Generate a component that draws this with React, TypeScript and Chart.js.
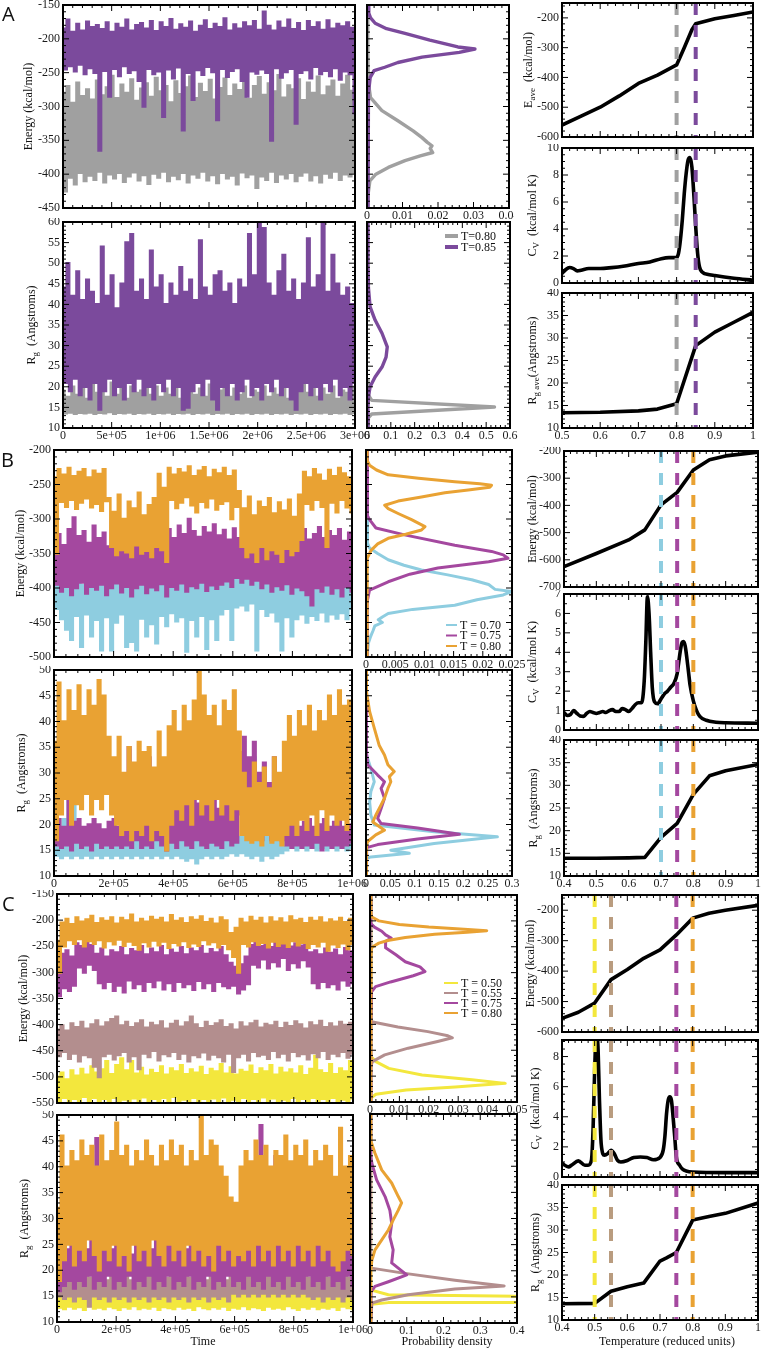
import React, { useEffect, useRef } from 'react';
import { Chart, registerables } from 'chart.js';

Chart.register(...registerables);

const SERIF = '"Liberation Serif", "Times New Roman", serif';
Chart.defaults.font.family = SERIF;

// ---------- colours ----------
const GRAY = '#a0a0a0';
const PURPLE = '#7b4a9c';
const CYAN = '#8ecde0';
const MAGENTA = '#a4489f';
const ORANGE = '#e9a233';
const YELLOW = '#f3e73d';
const MAUVE = '#b38e8e';
const TAN = '#b99c7f';

// ---------- tick values / labels ----------
const A_TIME_TICKS = [0, 5e5, 1e6, 1.5e6, 2e6, 2.5e6, 3e6];
const A_TIME_LABELS = ['0', '5e+05', '1e+06', '1.5e+06', '2e+06', '2.5e+06', '3e+06'];
const BC_TIME_TICKS = [0, 2e5, 4e5, 6e5, 8e5, 1e6];
const BC_TIME_LABELS = ['0', '2e+05', '4e+05', '6e+05', '8e+05', '1e+06'];
const A_E_TICKS = [-450, -400, -350, -300, -250, -200, -150];
const B_E_TICKS = [-500, -450, -400, -350, -300, -250, -200];
const C_E_TICKS = [-550, -500, -450, -400, -350, -300, -250, -200, -150];
const A_RG_TICKS = [10, 15, 20, 25, 30, 35, 40, 45, 50, 55, 60];
const BC_RG_TICKS = [10, 15, 20, 25, 30, 35, 40, 45, 50];
const A_HE_TICKS = [0, 0.01, 0.02, 0.03, 0.04];
const A_HR_TICKS = [0, 0.1, 0.2, 0.3, 0.4, 0.5, 0.6];
const B_HE_TICKS = [0, 0.005, 0.01, 0.015, 0.02, 0.025];
const B_HR_TICKS = [0, 0.05, 0.1, 0.15, 0.2, 0.25, 0.3];
const C_HE_TICKS = [0, 0.01, 0.02, 0.03, 0.04, 0.05];
const C_HR_TICKS = [0, 0.1, 0.2, 0.3, 0.4];
const A_TEMP_TICKS = [0.5, 0.6, 0.7, 0.8, 0.9, 1];
const BC_TEMP_TICKS = [0.4, 0.5, 0.6, 0.7, 0.8, 0.9, 1];
const R_E_TICKS = [-600, -500, -400, -300, -200];
const B_RE_TICKS = [-700, -600, -500, -400, -300, -200];
const A_CV_TICKS = [0, 2, 4, 6, 8, 10];
const B_CV_TICKS = [0, 1, 2, 3, 4, 5, 6, 7];
const C_CV_TICKS = [0, 2, 4, 6, 8];
const R_RG_TICKS = [10, 15, 20, 25, 30, 35, 40];

// ---------- A: time series (alternating high / low samples) ----------
const A_E_T085 = [
  -185, -245, -172, -240, -190, -248, -178, -238, -188, -252, -175, -243, -183, -250, -180, -365, -186, -247, -176, -285,
  -190, -244, -178, -255, -184, -240, -172, -250, -188, -246, -180, -262, -177, -300, -185, -244, -174, -252, -189, -248,
  -176, -315, -183, -245, -171, -258, -187, -242, -179, -335, -184, -250, -175, -290, -190, -246, -181, -253, -173, -241,
  -186, -249, -178, -320, -183, -244, -170, -256, -188, -247, -179, -243, -185, -262, -176, -285, -182, -248, -174, -251,
  -187, -245, -160, -250, -181, -350, -188, -243, -175, -257, -184, -249, -172, -244, -186, -325, -177, -250, -189, -246,
  -174, -258, -183, -241, -176, -252, -187, -247, -173, -255, -185, -243, -178, -260, -182, -248, -176, -252, -184, -310,
];
const A_E_T080 = [
  -280, -425, -270, -405, -295, -415, -265, -398, -285, -410, -275, -402, -290, -408, -262, -396, -284, -412, -272, -400,
  -255, -406, -288, -398, -268, -411, -280, -403, -260, -397, -292, -409, -274, -401, -266, -414, -286, -399, -258, -405,
  -278, -396, -270, -410, -294, -402, -263, -407, -282, -398, -272, -412, -256, -400, -288, -405, -267, -396, -279, -409,
  -261, -401, -290, -413, -273, -398, -259, -406, -285, -402, -268, -415, -276, -397, -262, -404, -289, -400, -270, -420,
  -257, -403, -283, -408, -266, -396, -278, -411, -254, -400, -287, -406, -269, -398, -275, -410, -260, -402, -291, -397,
  -265, -409, -280, -401, -256, -412, -284, -399, -271, -405, -262, -396, -286, -408, -268, -400, -255, -403, -277, -398,
];
const A_RG_T085 = [
  44, 21, 50, 19, 42, 22, 48, 18, 41, 20, 46, 17, 43, 21, 40, 14.5, 54, 19, 42, 22,
  47, 18, 39, 20, 45, 17, 55, 21, 57, 19, 43, 22, 46, 18, 41, 20, 53, 17, 44, 21,
  47, 19, 40, 22, 45, 18, 42, 20, 49, 14.5, 43, 15, 46, 19, 41, 21, 55.5, 18, 44, 22,
  42, 17, 47, 14.5, 48, 20, 43, 18, 45, 21, 40, 17, 46, 19, 44, 22, 57, 18, 47, 20,
  60, 17, 58.5, 21, 45, 19, 42, 22, 48, 18, 52, 20, 43, 17, 46, 14.5, 41, 19, 45, 21,
  56, 18, 44, 20, 47, 17, 60, 21, 43, 19, 52, 22, 45, 18, 42, 20, 44, 17, 40, 21,
];
const A_RG_T080 = [
  19, 13.6, 17.5, 13.8, 20, 13.5, 18, 13.7, 19.5, 13.6, 17, 13.8, 20.5, 13.5, 18.5, 13.7, 19, 13.6, 17.5, 13.9,
  21, 13.5, 18, 13.7, 19.5, 13.6, 17, 13.8, 20, 13.5, 18.5, 13.7, 19, 13.6, 23, 13.8, 18, 13.5, 20, 13.7,
  17.5, 13.6, 19.5, 13.8, 18, 13.5, 21, 13.7, 17, 13.6, 19, 13.8, 20, 13.5, 18, 13.7, 19.5, 13.6, 17.5, 13.8,
  20.5, 13.5, 18, 13.7, 19, 13.6, 21.5, 13.8, 17.5, 13.5, 19.5, 13.7, 18, 13.6, 20, 13.8, 17, 13.5, 19, 13.7,
  18.5, 13.6, 20, 13.8, 17.5, 13.5, 19.5, 13.7, 18, 13.6, 20.5, 13.8, 17, 13.5, 19, 13.7, 21, 13.6, 22, 13.8,
  18.5, 13.5, 20, 13.7, 17.5, 13.6, 19.5, 13.8, 18, 13.5, 20, 13.7, 17, 13.6, 19, 13.8, 18.5, 13.5, 20, 13.7,
];

// ---------- B: time series ----------
const B_E_T080 = [
  -240, -350, -228, -275, -236, -282, -226, -272, -238, -285, -232, -276, -228, -270, -240, -283, -230, -278, -235, -288,
  -228, -274, -270, -340, -290, -352, -265, -345, -300, -348, -275, -355, -285, -338, -262, -350, -295, -346, -280, -355,
  -270, -340, -235, -345, -255, -362, -226, -272, -236, -284, -228, -276, -233, -268, -224, -280, -238, -290, -230, -275,
  -225, -283, -240, -270, -229, -286, -234, -278, -226, -274, -238, -300, -230, -282, -260, -340, -285, -355, -268, -348,
  -295, -362, -275, -340, -283, -358, -270, -345, -292, -350, -276, -362, -288, -343, -272, -352, -297, -346, -265, -330,
  -232, -278, -240, -286, -228, -272, -236, -282, -245, -340, -229, -276, -238, -290, -226, -272, -234, -283, -240, -290,
];
const B_E_T075 = [
  -330, -395, -322, -405, -338, -398, -315, -410, -298, -400, -325, -392, -318, -408, -335, -398, -310, -402, -328, -395,
  -320, -410, -340, -400, -316, -393, -330, -406, -322, -398, -336, -412, -312, -400, -327, -395, -318, -407, -333, -399,
  -325, -403, -305, -394, -320, -412, -315, -398, -328, -402, -310, -393, -322, -405, -300, -397, -318, -400, -326, -392,
  -312, -404, -320, -396, -308, -401, -324, -395, -316, -390, -330, -398, -314, -385, -328, -392, -335, -386, -320, -395,
  -326, -389, -316, -400, -332, -393, -312, -405, -325, -397, -318, -402, -334, -394, -310, -408, -327, -399, -321, -403,
  -315, -410, -330, -425, -322, -400, -312, -405, -328, -396, -318, -408, -325, -400, -315, -412, -332, -398, -320, -405,
];
const B_E_T070 = [
  -395, -430, -390, -445, -398, -460, -385, -475, -392, -440, -388, -485, -396, -438, -384, -470, -393, -446, -389, -490,
  -397, -442, -386, -490, -394, -450, -390, -438, -384, -485, -395, -478, -388, -490, -392, -444, -386, -470, -398, -452,
  -380, -480, -393, -440, -387, -455, -395, -436, -382, -448, -390, -442, -378, -492, -392, -446, -385, -470, -375, -440,
  -388, -488, -380, -445, -376, -475, -384, -438, -372, -430, -380, -475, -368, -428, -376, -425, -370, -432, -378, -422,
  -372, -490, -380, -430, -385, -440, -390, -435, -382, -448, -388, -490, -394, -442, -386, -470, -392, -445, -384, -438,
  -395, -450, -388, -440, -393, -446, -386, -435, -396, -448, -390, -438, -385, -444, -394, -436, -388, -445, -392, -430,
];
const B_RG_T080 = [
  36, 17, 47.5, 22, 40, 25, 46, 20, 42, 24, 47, 23, 41, 26, 46, 22, 43, 25, 48, 23,
  45, 26, 37, 22, 33, 20, 37, 18, 30, 19, 35, 17, 32, 19, 36, 18, 34, 20, 35, 17,
  31, 19, 38, 18, 33, 15, 39, 20, 42, 23, 38, 21, 43, 24, 40, 20, 44, 25, 50, 22,
  45, 24, 41, 21, 43, 25, 39, 22, 44, 24, 42, 21, 46, 23, 38, 18, 30, 17, 27, 16.5,
  32, 17, 28, 16, 31, 18, 27, 16.5, 33, 17, 30, 16, 36, 18, 41, 20, 37, 18, 42, 21,
  39, 19, 43, 22, 38, 18, 42, 23, 40, 19, 45, 22, 41, 20, 46, 21, 43, 19, 44, 22,
];
const B_RG_T075 = [
  20, 16, 21, 15.5, 19.5, 16, 25, 15, 20.5, 16.5, 21, 15.5, 19.5, 16, 20, 15, 21, 16.5, 20, 15.5,
  19, 16, 20.5, 15.5, 21, 16, 19.5, 15.5, 24, 16, 35, 15.5, 26, 17, 30, 15.5, 23, 16, 33, 15.5,
  27, 17, 25, 16, 30, 15, 24, 16.5, 27, 15.5, 23, 17, 28, 16, 25, 15.5, 32, 17, 24, 16,
  28, 15.5, 26, 16.5, 30, 16, 23, 15.5, 27, 17, 25, 16, 29, 16.5, 34, 22, 37, 24, 33, 23,
  36, 25, 30, 17, 32, 18, 28, 17, 33, 18, 29, 17, 21, 16, 20, 15.5, 21, 16, 19.5, 15.5,
  20.5, 16, 21, 15.5, 19.5, 16.5, 20, 15, 21, 16, 19.5, 15.5, 20.5, 16, 21, 15.5, 19.5, 16, 20, 16.5,
];
const B_RG_T070 = [
  17, 14, 18, 13.5, 21, 14, 25, 13.5, 26, 14, 17.5, 13.5, 18, 14, 17, 13.5, 18.5, 14, 17, 13.5,
  16.5, 14, 17.5, 13.5, 16, 14, 17, 13.5, 16.5, 14, 17.5, 13.5, 18, 14, 17, 13.5, 19, 14, 17.5, 13.5,
  18, 14, 19, 13.5, 17.5, 14, 18.5, 13.5, 19, 14, 17.5, 13.5, 18.5, 13, 19, 13.5, 18, 12.5, 19.5, 13.5,
  18, 14, 19, 13.5, 18.5, 14, 19.5, 13.5, 18, 14, 19, 14.5, 18, 14, 17.5, 14.5, 18, 14, 19, 13.5,
  33, 14, 20, 13, 18.5, 14, 19, 13.5, 18, 14, 19.5, 14.5, 18.5, 15, 27, 15.5, 25, 15, 19, 15.5,
  19.5, 15, 18, 15.5, 19, 15, 18, 15.5, 19, 15, 18.5, 15.5, 19.5, 15, 18, 15.5, 19, 15, 18.5, 15.5,
];

// ---------- C: time series ----------
const C_E_T080 = [
  -240, -300, -205, -250, -198, -238, -208, -245, -195, -236, -203, -250, -199, -240, -192, -245, -206, -238, -197, -252,
  -202, -240, -195, -246, -207, -237, -196, -249, -201, -241, -190, -247, -205, -256, -198, -242, -203, -250, -194, -239,
  -200, -248, -196, -241, -205, -253, -191, -243, -202, -248, -197, -240, -206, -251, -195, -244, -200, -249, -193, -238,
  -204, -246, -198, -242, -207, -252, -195, -245, -201, -255, -225, -270, -215, -300, -198, -245, -205, -250, -194, -240,
  -202, -247, -196, -243, -207, -252, -195, -241, -203, -249, -197, -244, -205, -251, -193, -240, -201, -248, -198, -243,
  -206, -253, -196, -245, -202, -250, -195, -241, -205, -258, -199, -246, -203, -251, -196, -244, -204, -255, -198, -245,
];
const C_E_T075 = [
  -290, -345, -265, -330, -258, -335, -270, -325, -245, -290, -250, -300, -240, -285, -248, -295, -265, -320, -255, -330,
  -270, -318, -258, -335, -262, -325, -252, -338, -268, -315, -256, -330, -260, -322, -250, -335, -266, -318, -255, -328,
  -262, -315, -250, -332, -268, -320, -257, -335, -263, -318, -252, -328, -266, -322, -255, -333, -260, -316, -250, -330,
  -265, -320, -256, -335, -262, -318, -252, -326, -268, -330, -282, -325, -290, -340, -285, -332, -270, -322, -248, -285,
  -242, -290, -250, -275, -244, -292, -252, -280, -240, -288, -248, -272, -243, -295, -251, -282, -245, -290, -249, -276,
  -241, -288, -262, -320, -258, -330, -266, -318, -255, -328, -263, -322, -257, -332, -268, -315, -254, -325, -260, -320,
];
const C_E_T055 = [
  -410, -460, -402, -452, -412, -465, -398, -455, -405, -470, -395, -458, -408, -462, -400, -480, -392, -500, -404, -460,
  -396, -455, -390, -466, -385, -458, -402, -452, -395, -470, -405, -460, -398, -485, -392, -455, -406, -462, -397, -450,
  -402, -468, -394, -456, -408, -460, -399, -452, -393, -465, -404, -455, -396, -470, -385, -458, -400, -462, -407, -453,
  -395, -466, -403, -457, -398, -462, -392, -470, -405, -455, -400, -490, -410, -462, -396, -455, -404, -468, -398, -452,
  -393, -460, -406, -457, -399, -465, -402, -450, -395, -462, -407, -455, -397, -468, -403, -452, -394, -460, -400, -456,
  -408, -466, -396, -454, -402, -462, -393, -450, -405, -465, -398, -455, -404, -460, -395, -452, -401, -463, -397, -455,
];
const C_E_T050 = [
  -500, -548, -492, -540, -505, -550, -488, -542, -498, -548, -485, -538, -496, -546, -480, -540, -492, -549, -486, -542,
  -470, -547, -495, -540, -478, -548, -465, -543, -488, -550, -470, -541, -494, -547, -483, -539, -498, -548, -487, -542,
  -493, -550, -480, -540, -496, -546, -484, -538, -490, -549, -478, -543, -495, -547, -486, -540, -492, -548, -481, -542,
  -497, -550, -485, -541, -490, -546, -476, -539, -494, -548, -482, -543, -496, -547, -487, -540, -491, -549, -479, -542,
  -495, -546, -484, -539, -490, -548, -478, -541, -496, -547, -483, -543, -492, -549, -486, -540, -494, -546, -480, -542,
  -497, -548, -485, -540, -460, -547, -488, -542, -493, -549, -476, -540, -495, -546, -484, -543, -490, -548, -470, -541,
];
const C_RG_T080 = [
  32, 18, 46, 22, 40, 25, 43, 21, 41, 24, 45, 22, 42, 26, 44, 23, 40, 20, 46, 24,
  41, 22, 43, 25, 48.5, 21, 42, 23, 44, 20, 40, 25, 43, 22, 41, 24, 45, 21, 42, 26,
  40, 23, 44, 21, 41, 25, 45, 22, 42, 24, 44, 21, 40, 25, 43, 22, 41, 24, 50, 21,
  42, 23, 45, 20, 44, 25, 40, 22, 38, 24, 34, 21, 33, 23, 40, 22, 43, 24, 41, 21,
  45, 25, 42, 22, 44, 24, 40, 21, 43, 25, 42, 22, 46, 24, 41, 21, 44, 25, 42, 22,
  45, 24, 40, 21, 43, 25, 41, 22, 44, 24, 42, 21, 38, 20, 47.5, 22, 40, 24, 42, 23,
];
const C_RG_T075 = [
  22, 16, 26, 17, 24, 18, 27, 16.5, 25, 18, 28, 17, 24, 19, 26, 16.5, 45.5, 18, 25, 17,
  27, 19, 24, 16.5, 28, 18, 25, 17, 26, 19, 23, 16.5, 27, 18, 25, 17, 29, 19, 24, 16.5,
  27, 18, 25, 17, 26, 19, 28, 16.5, 25, 18, 27, 17, 24, 19, 29, 16.5, 26, 18, 25, 17,
  27, 19, 24, 16.5, 28, 18, 25, 17, 26, 19, 24, 17, 27, 18, 25, 16.5, 28, 19, 26, 17,
  27, 18, 48, 16.5, 25, 19, 28, 17, 42, 18, 26, 16.5, 27, 19, 24, 17, 28, 18, 25, 16.5,
  27, 19, 24, 17, 26, 18, 28, 16.5, 25, 19, 27, 17, 24, 18, 26, 16.5, 25, 19, 27, 17,
];
const C_RG_T055 = [
  18, 15, 19.5, 14.5, 18.5, 15, 20, 14, 19, 15, 18, 14.5, 19.5, 13, 18.5, 15, 20, 14.5, 19, 15,
  18, 14, 19.5, 15, 18.5, 14.5, 20, 15, 19, 14, 18, 15, 19.5, 14.5, 18.5, 15, 20, 14, 19, 15,
  18, 14.5, 19.5, 15, 18.5, 14, 20, 15, 19, 14.5, 18, 15, 19.5, 14, 18.5, 15, 20, 14.5, 19, 15,
  18, 14, 19.5, 15, 18.5, 14.5, 19, 15, 18, 14, 19.5, 15.5, 18.5, 15, 20, 15.5, 19, 15, 20, 15.5,
  19.5, 15, 20, 15.5, 19, 15, 20, 15.5, 19.5, 15, 20, 15.5, 19, 15, 20, 15.5, 19.5, 15, 20, 15.5,
  19, 15, 18.5, 14.5, 19.5, 15, 18, 14, 19, 15, 18.5, 14.5, 19.5, 15, 18, 14, 19, 15, 18.5, 14.5,
];
const C_RG_T050 = [
  15.5, 12.8, 16, 12.5, 15.2, 13, 15.8, 12.6, 16.2, 12.9, 15, 12.4, 15.7, 13.1, 15.3, 12.6, 16, 12.8, 15.4, 12.5,
  15.9, 13, 15.1, 12.7, 15.6, 12.4, 16.1, 12.9, 15.2, 12.6, 15.8, 13.1, 15.4, 12.5, 16, 12.8, 15.1, 12.6, 15.7, 13,
  15.3, 12.4, 16.2, 12.9, 15.5, 12.7, 15.9, 12.5, 15, 13, 15.6, 12.6, 16, 12.8, 15.3, 12.4, 15.8, 13.1, 15.2, 12.7,
  15.7, 12.5, 16.1, 12.9, 15.4, 12.6, 15.9, 13, 15.1, 12.4, 15.6, 12.8, 16, 12.6, 15.3, 13.1, 15.8, 12.5, 15.5, 12.9,
  16.2, 12.7, 15.2, 12.4, 15.7, 13, 15.4, 12.6, 16, 12.8, 15.1, 12.5, 15.9, 13.1, 15.5, 12.7, 15.3, 12.4, 15.8, 12.9,
  16.1, 12.6, 15.2, 13, 15.6, 12.5, 15.4, 12.8, 15.9, 12.6, 15, 12.9, 15.7, 12.4, 16, 13, 15.3, 12.7, 15.6, 12.5,
];

// ---------- histograms (value, probability density) ----------
const A_HE_T085_E = [-150, -162, -169, -177, -185, -192, -202, -212, -215, -220, -227, -235, -242, -247, -257, -280, -350, -450];
const A_HE_T085_P = [0.0004, 0.0005, 0.001, 0.0023, 0.0055, 0.0107, 0.0177, 0.0256, 0.0304, 0.026, 0.0155, 0.0087, 0.005, 0.002, 0.0009, 0.0004, 0.0003, 0.0003];
const A_HE_T080_E = [-150, -200, -250, -269, -287, -306, -321, -336, -346, -353, -358, -362, -368, -373, -380, -390, -400, -410, -430, -450];
const A_HE_T080_P = [0.0002, 0.0002, 0.0003, 0.0005, 0.001, 0.0042, 0.0087, 0.013, 0.0155, 0.017, 0.0183, 0.0178, 0.0185, 0.015, 0.0107, 0.006, 0.0025, 0.0008, 0.0003, 0.0002];
const A_HR_T085_R = [60, 50, 44, 39.4, 36.2, 33, 29.7, 27.2, 24.8, 22.4, 20, 17.5, 15, 10];
const A_HR_T085_P = [0.004, 0.004, 0.006, 0.013, 0.034, 0.063, 0.085, 0.08, 0.063, 0.034, 0.013, 0.006, 0.004, 0.004];
const A_HR_T080_R = [22, 18, 16.7, 15.1, 13.4, 12.5, 10];
const A_HR_T080_P = [0.004, 0.006, 0.02, 0.535, 0.02, 0.006, 0.004];

const B_HE_T080_E = [-200, -215, -222, -229, -236, -241, -246, -249, -251, -254, -258, -262, -268, -274, -280, -285, -292, -301, -307, -311, -316, -322, -328, -336, -345, -357, -420, -500];
const B_HE_T080_P = [0.0002, 0.0002, 0.0006, 0.0018, 0.0038, 0.009, 0.0152, 0.0195, 0.0215, 0.0212, 0.0175, 0.0135, 0.0095, 0.0055, 0.0032, 0.0038, 0.0055, 0.0078, 0.0092, 0.0101, 0.0095, 0.0068, 0.0038, 0.002, 0.0009, 0.0002, 0.0002, 0.0002];
const B_HE_T075_E = [-200, -250, -295, -301, -313, -323, -338, -347, -352, -357, -362, -371, -380, -391, -403, -420, -500];
const B_HE_T075_P = [0.0002, 0.0002, 0.0003, 0.0006, 0.0017, 0.0066, 0.0152, 0.0215, 0.0235, 0.0243, 0.021, 0.0123, 0.0075, 0.0038, 0.0006, 0.0002, 0.0002];
const B_HE_T070_E = [-200, -300, -335, -342, -350, -359, -367, -374, -381, -388, -395, -402, -405, -410, -417, -425, -431, -437, -442, -446, -450, -455, -462, -470, -480, -500];
const B_HE_T070_P = [0.0002, 0.0002, 0.0003, 0.0006, 0.002, 0.0038, 0.0065, 0.0095, 0.014, 0.0181, 0.021, 0.0221, 0.025, 0.0235, 0.019, 0.0152, 0.008, 0.0038, 0.0028, 0.0021, 0.0028, 0.0015, 0.0012, 0.0008, 0.0004, 0.0002];
const B_HR_T080_R = [50, 47, 45.8, 41.9, 38.7, 35.4, 33.5, 31.6, 30.3, 29.3, 28.3, 27, 25.1, 23.8, 21.8, 20.5, 18.9, 18, 16.7, 16, 12, 10];
const B_HR_T080_P = [0.001, 0.001, 0.001, 0.0075, 0.017, 0.027, 0.038, 0.045, 0.058, 0.048, 0.051, 0.045, 0.038, 0.031, 0.02, 0.014, 0.038, 0.02, 0.0034, 0.001, 0.001, 0.001];
const B_HR_T075_R = [50, 36, 34.1, 31.6, 29.6, 28.3, 27, 25.1, 23.1, 21.2, 20.2, 19.3, 18.1, 17.2, 16.1, 15.5, 12, 10];
const B_HR_T075_P = [0.001, 0.001, 0.001, 0.0034, 0.024, 0.038, 0.031, 0.038, 0.031, 0.024, 0.031, 0.106, 0.192, 0.106, 0.024, 0.0014, 0.001, 0.001];
const B_HR_T070_R = [50, 36, 33.5, 30.9, 28.3, 26.4, 24.4, 21.8, 19.9, 18.6, 17.6, 16.3, 15, 14.4, 13.7, 13.4, 10];
const B_HR_T070_P = [0.001, 0.001, 0.001, 0.01, 0.017, 0.01, 0.0075, 0.01, 0.017, 0.14, 0.27, 0.14, 0.051, 0.089, 0.01, 0.001, 0.001];

const C_HE_T080_E = [-150, -185, -192, -200, -207, -212, -216, -219, -222, -226, -232, -238, -243, -248, -252, -270, -400, -550];
const C_HE_T080_P = [0.0003, 0.0003, 0.0005, 0.003, 0.01, 0.02, 0.032, 0.0397, 0.033, 0.022, 0.012, 0.006, 0.003, 0.0015, 0.0005, 0.0003, 0.0003, 0.0003];
const C_HE_T075_E = [-150, -205, -212, -220, -227, -233, -240, -252, -265, -279, -289, -298, -306, -318, -327, -337, -400, -550];
const C_HE_T075_P = [0.0003, 0.0003, 0.0015, 0.004, 0.0053, 0.0072, 0.0053, 0.0053, 0.0087, 0.012, 0.017, 0.0187, 0.0147, 0.007, 0.0019, 0.0005, 0.0003, 0.0003];
const C_HE_T055_E = [-150, -390, -395, -405, -414, -422, -426, -433, -446, -459, -472, -480, -550];
const C_HE_T055_P = [0.0003, 0.0003, 0.0005, 0.0095, 0.0197, 0.0265, 0.028, 0.023, 0.013, 0.005, 0.0008, 0.0003, 0.0003];
const C_HE_T050_E = [-150, -455, -462, -472, -485, -498, -507, -514, -521, -527, -535, -542, -550];
const C_HE_T050_P = [0.0003, 0.0003, 0.0003, 0.002, 0.0064, 0.0177, 0.0347, 0.046, 0.029, 0.0123, 0.002, 0.0004, 0.0003];
const C_HR_T080_R = [50, 46, 44.7, 42.5, 39.3, 36.8, 34.2, 33, 31.6, 29.7, 27.8, 25.9, 24, 22, 20, 10];
const C_HR_T080_P = [0.002, 0.002, 0.003, 0.0136, 0.0318, 0.059, 0.077, 0.086, 0.077, 0.063, 0.05, 0.032, 0.0136, 0.005, 0.002, 0.002];
const C_HR_T075_R = [50, 42, 40.6, 37.4, 34.2, 31.6, 29.1, 26.5, 24, 21.5, 19.2, 17.9, 17, 16, 10];
const C_HR_T075_P = [0.002, 0.002, 0.005, 0.018, 0.041, 0.054, 0.059, 0.054, 0.063, 0.059, 0.1, 0.05, 0.0136, 0.003, 0.002];
const C_HR_T055_R = [50, 21, 20.5, 19.5, 18.2, 17.1, 16.5, 15.4, 14.4, 13.8, 10];
const C_HR_T055_P = [0.002, 0.002, 0.004, 0.095, 0.231, 0.365, 0.231, 0.104, 0.0318, 0.005, 0.002];
const C_HR_T050_R = [50, 17, 16.3, 15.4, 14.7, 14.0, 13.9, 13.6, 10];
const C_HR_T050_P = [0.002, 0.002, 0.004, 0.05, 0.9, 0.9, 0.05, 0.004, 0.002];

// ---------- temperature dependence ----------
const A_EAVE_T = [0.5, 0.55, 0.6, 0.65, 0.7, 0.75, 0.8, 0.82, 0.84, 0.85, 0.9, 0.95, 1.0];
const A_EAVE = [-560, -530, -500, -462, -420, -392, -358, -300, -240, -220, -203, -192, -180];
const A_CV_T = [0.5, 0.51, 0.52, 0.53, 0.54, 0.55, 0.57, 0.6, 0.63, 0.66, 0.7, 0.73, 0.76, 0.78, 0.8, 0.805, 0.81, 0.815, 0.82, 0.825, 0.83, 0.835, 0.84, 0.845, 0.85, 0.855, 0.86, 0.87, 0.88, 0.9, 0.95, 1.0];
const A_CV = [0.7, 1.0, 1.15, 1.07, 0.9, 0.95, 1.07, 1.07, 1.14, 1.24, 1.44, 1.56, 1.8, 1.88, 1.9, 2.2, 3.2, 4.7, 6.6, 8.1, 9.1, 9.3, 8.6, 6.6, 4.2, 2.2, 1.2, 0.75, 0.65, 0.55, 0.35, 0.2];
const A_RGAVE_T = [0.5, 0.6, 0.7, 0.75, 0.8, 0.85, 0.9, 0.95, 1.0];
const A_RGAVE = [13.4, 13.5, 13.8, 14.2, 15.4, 28.3, 31.3, 33.5, 35.7];
const A_MARK_T = [0.8, 0.85];

const B_E_T = [0.4, 0.5, 0.6, 0.65, 0.7, 0.75, 0.8, 0.85, 0.9, 1.0];
const B_E = [-625, -577, -527, -490, -398, -352, -270, -232, -218, -204];
const B_CV_T = [0.4, 0.41, 0.42, 0.43, 0.44, 0.45, 0.46, 0.47, 0.48, 0.49, 0.5, 0.51, 0.52, 0.53, 0.54, 0.55, 0.56, 0.57, 0.58, 0.59, 0.6, 0.61, 0.62, 0.63, 0.64, 0.648, 0.653, 0.658, 0.663, 0.668, 0.673, 0.68, 0.69, 0.7, 0.71, 0.72, 0.73, 0.74, 0.75, 0.755, 0.76, 0.765, 0.77, 0.775, 0.78, 0.785, 0.79, 0.8, 0.81, 0.82, 0.84, 0.87, 0.9, 1.0];
const B_CV = [0.9, 0.75, 0.8, 1.0, 0.85, 0.72, 0.7, 0.85, 0.95, 0.9, 0.85, 0.9, 0.95, 0.9, 1.0, 1.05, 0.95, 0.95, 1.1, 1.05, 0.95, 1.1, 1.3, 1.4, 1.4, 2.5, 4.5, 6.85, 6.0, 4.0, 2.2, 1.45, 1.35, 1.6, 1.85, 2.0, 2.2, 2.4, 2.9, 3.5, 4.1, 4.5, 4.55, 4.3, 3.7, 3.0, 2.3, 1.5, 1.0, 0.7, 0.5, 0.4, 0.37, 0.35];
const B_RG_T = [0.4, 0.5, 0.6, 0.65, 0.7, 0.75, 0.8, 0.85, 0.9, 1.0];
const B_RG = [13.9, 13.9, 14, 14.1, 18.5, 21.6, 28, 32.1, 33.2, 34.6];
const B_MARK_T = [0.7, 0.75, 0.8];

const C_E_T = [0.4, 0.45, 0.5, 0.55, 0.6, 0.65, 0.7, 0.75, 0.8, 0.85, 0.9, 1.0];
const C_E = [-555, -535, -505, -428, -395, -358, -330, -281, -226, -210, -200, -184];
const C_CV_T = [0.4, 0.42, 0.43, 0.45, 0.47, 0.48, 0.49, 0.495, 0.5, 0.505, 0.51, 0.515, 0.52, 0.53, 0.54, 0.55, 0.56, 0.57, 0.58, 0.6, 0.62, 0.64, 0.66, 0.68, 0.7, 0.71, 0.715, 0.72, 0.725, 0.73, 0.735, 0.74, 0.745, 0.75, 0.76, 0.77, 0.78, 0.8, 0.9, 1.0];
const C_CV = [0.9, 0.67, 0.8, 1.07, 0.78, 0.78, 1.1, 3.1, 7.1, 9.6, 8.7, 4.9, 2.2, 1.45, 1.55, 1.78, 1.55, 1.1, 1.0, 1.1, 1.3, 1.33, 1.3, 1.15, 1.3, 1.8, 2.7, 4.2, 5.1, 5.33, 5.1, 4.0, 2.7, 1.33, 0.78, 0.5, 0.4, 0.33, 0.29, 0.29];
const C_RG_T = [0.4, 0.5, 0.55, 0.6, 0.65, 0.7, 0.72, 0.75, 0.8, 0.85, 0.9, 1.0];
const C_RG = [13.6, 13.7, 16.4, 17.4, 18.2, 23.1, 23.8, 25, 32.2, 33, 33.7, 36];
const C_MARK_T = [0.5, 0.55, 0.75, 0.8];

// ---------- types & helpers ----------
type Axis = { min: number; max: number; ticks: number[]; labels: string[] | null; minor: number };
type Part = { t: string; sub?: boolean };
type Legend = { x: number; ys: number[]; len: number; width: number; items: { label: string; color: string }[] };
type PanelSpec = {
  id: string;
  plot: number[];
  pad: number[];
  x: Axis;
  y: Axis;
  datasets: any[];
  yTitle?: { x: number; parts: Part[] };
  xTitle?: { x: number; y: number; text: string };
  legend?: Legend;
  bg?: boolean;
};

const str = (a: number[]) => a.map((v) => String(v));

function series(vals: number[], total: number, color: string) {
  const n = vals.length;
  return {
    data: vals.map((v, i) => ({ x: (i * total) / (n - 1), y: v })),
    borderColor: color, borderWidth: 2.6, pointRadius: 0, showLine: true,
    stepped: 'middle', borderJoinStyle: 'miter', tension: 0,
  };
}
function hist(vals: number[], dens: number[], color: string, width = 3) {
  return {
    data: dens.map((d, i) => ({ x: d, y: vals[i] })),
    borderColor: color, borderWidth: width, pointRadius: 0, showLine: true,
    borderJoinStyle: 'round', tension: 0,
  };
}
function curve(ts: number[], vs: number[], smooth: boolean) {
  return {
    data: ts.map((t, i) => ({ x: t, y: vs[i] })),
    borderColor: '#000', borderWidth: 3.6, pointRadius: 0, showLine: true,
    tension: smooth ? 0.4 : 0, cubicInterpolationMode: smooth ? 'monotone' : 'default',
    borderJoinStyle: 'round',
  };
}
function vline(t: number, color: string, ax: Axis) {
  return {
    data: [{ x: t, y: ax.max }, { x: t, y: ax.min }],
    borderColor: color, borderWidth: 4, borderDash: [12, 10], pointRadius: 0,
    showLine: true, borderCapStyle: 'butt',
  };
}

const ENERGY_T: Part[] = [{ t: 'Energy (kcal/mol)' }];
const RG_T: Part[] = [{ t: 'R' }, { t: 'g', sub: true }, { t: '  (Angstroms)' }];
const CV_T: Part[] = [{ t: 'C' }, { t: 'V', sub: true }, { t: '  (kcal/mol K)' }];

// ---------- axes ----------
const axATime = (lab: boolean): Axis => ({ min: 0, max: 3e6, ticks: A_TIME_TICKS, labels: lab ? A_TIME_LABELS : null, minor: 5 });
const axBCTime = (lab: boolean): Axis => ({ min: 0, max: 1e6, ticks: BC_TIME_TICKS, labels: lab ? BC_TIME_LABELS : null, minor: 5 });
const axAE = (lab: boolean): Axis => ({ min: -450, max: -150, ticks: A_E_TICKS, labels: lab ? str(A_E_TICKS) : null, minor: 5 });
const axBE = (lab: boolean): Axis => ({ min: -500, max: -200, ticks: B_E_TICKS, labels: lab ? str(B_E_TICKS) : null, minor: 5 });
const axCE = (lab: boolean): Axis => ({ min: -550, max: -150, ticks: C_E_TICKS, labels: lab ? str(C_E_TICKS) : null, minor: 5 });
const axARg = (lab: boolean): Axis => ({ min: 10, max: 60, ticks: A_RG_TICKS, labels: lab ? str(A_RG_TICKS) : null, minor: 5 });
const axBCRg = (lab: boolean): Axis => ({ min: 10, max: 50, ticks: BC_RG_TICKS, labels: lab ? str(BC_RG_TICKS) : null, minor: 5 });
const axATemp = (lab: boolean): Axis => ({ min: 0.5, max: 1, ticks: A_TEMP_TICKS, labels: lab ? str(A_TEMP_TICKS) : null, minor: 5 });
const axBCTemp = (lab: boolean): Axis => ({ min: 0.4, max: 1, ticks: BC_TEMP_TICKS, labels: lab ? str(BC_TEMP_TICKS) : null, minor: 5 });
const axRE: Axis = { min: -600, max: -150, ticks: R_E_TICKS, labels: str(R_E_TICKS), minor: 5 };
const axBRE: Axis = { min: -700, max: -200, ticks: B_RE_TICKS, labels: str(B_RE_TICKS), minor: 5 };
const axACv: Axis = { min: 0, max: 10, ticks: A_CV_TICKS, labels: str(A_CV_TICKS), minor: 4 };
const axBCv: Axis = { min: 0, max: 7, ticks: B_CV_TICKS, labels: str(B_CV_TICKS), minor: 2 };
const axCCv: Axis = { min: 0, max: 9.1, ticks: C_CV_TICKS, labels: str(C_CV_TICKS), minor: 4 };
const axRRg: Axis = { min: 10, max: 40, ticks: R_RG_TICKS, labels: str(R_RG_TICKS), minor: 5 };
const hAx = (ticks: number[]): Axis => ({ min: 0, max: ticks[ticks.length - 1], ticks, labels: str(ticks), minor: 5 });

// ---------- panels ----------
const PANELS: PanelSpec[] = [
  // ===== A =====
  {
    id: 'AL1', plot: [63, 5, 355, 208], pad: [63, 5, 16, 4], x: axATime(false), y: axAE(true),
    datasets: [series(A_E_T085, 3e6, PURPLE), series(A_E_T080, 3e6, GRAY)],
    yTitle: { x: 28, parts: ENERGY_T },
  },
  {
    id: 'AL2', plot: [63, 222, 355, 428], pad: [63, 4, 16, 20], x: axATime(true), y: axARg(true),
    datasets: [series(A_RG_T085, 3e6, PURPLE), series(A_RG_T080, 3e6, GRAY)],
    yTitle: { x: 31, parts: RG_T },
  },
  {
    id: 'AM1', plot: [367, 5, 509, 208], pad: [8, 5, 14, 20], x: hAx(A_HE_TICKS), y: axAE(false),
    datasets: [hist(A_HE_T085_E, A_HE_T085_P, PURPLE, 3.4), hist(A_HE_T080_E, A_HE_T080_P, GRAY, 3.4)],
  },
  {
    id: 'AM2', plot: [367, 222, 510, 428], pad: [8, 4, 12, 20], x: hAx(A_HR_TICKS), y: axARg(false),
    datasets: [hist(A_HR_T085_R, A_HR_T085_P, PURPLE, 3.4), hist(A_HR_T080_R, A_HR_T080_P, GRAY, 3.4)],
    legend: { x: 445, ys: [236, 247], len: 13, width: 4, items: [{ label: 'T=0.80', color: GRAY }, { label: 'T=0.85', color: PURPLE }] },
  },
  {
    id: 'AR1', plot: [562, 3, 753, 137], pad: [48, 3, 9, 4], x: axATemp(false), y: axRE,
    datasets: [vline(A_MARK_T[0], GRAY, axRE), vline(A_MARK_T[1], PURPLE, axRE), curve(A_EAVE_T, A_EAVE, false)],
    yTitle: { x: 528, parts: [{ t: 'E' }, { t: 'ave', sub: true }, { t: '  (kcal/mol)' }] },
  },
  {
    id: 'AR2', plot: [562, 148, 753, 283], pad: [48, 4, 9, 4], x: axATemp(false), y: axACv, bg: true,
    datasets: [vline(A_MARK_T[0], GRAY, axACv), vline(A_MARK_T[1], PURPLE, axACv), curve(A_CV_T, A_CV, true)],
    yTitle: { x: 532, parts: CV_T },
  },
  {
    id: 'AR3', plot: [562, 293, 753, 428], pad: [48, 4, 9, 20], x: axATemp(true), y: axRRg,
    datasets: [vline(A_MARK_T[0], GRAY, axRRg), vline(A_MARK_T[1], PURPLE, axRRg), curve(A_RGAVE_T, A_RGAVE, false)],
    yTitle: { x: 532, parts: [{ t: 'R' }, { t: 'g ave', sub: true }, { t: '(Angstroms)' }] },
  },
  // ===== B =====
  {
    id: 'BL1', plot: [54, 450, 352, 657], pad: [54, 6, 16, 4], x: axBCTime(false), y: axBE(true),
    datasets: [series(B_E_T080, 1e6, ORANGE), series(B_E_T075, 1e6, MAGENTA), series(B_E_T070, 1e6, CYAN)],
    yTitle: { x: 20, parts: ENERGY_T },
  },
  {
    id: 'BL2', plot: [54, 670, 352, 876], pad: [54, 4, 16, 20], x: axBCTime(true), y: axBCRg(true),
    datasets: [series(B_RG_T080, 1e6, ORANGE), series(B_RG_T075, 1e6, MAGENTA), series(B_RG_T070, 1e6, CYAN)],
    yTitle: { x: 21, parts: RG_T },
  },
  {
    id: 'BM1', plot: [366, 450, 512, 657], pad: [8, 4, 14, 20], x: hAx(B_HE_TICKS), y: axBE(false),
    datasets: [hist(B_HE_T080_E, B_HE_T080_P, ORANGE), hist(B_HE_T075_E, B_HE_T075_P, MAGENTA), hist(B_HE_T070_E, B_HE_T070_P, CYAN)],
    legend: { x: 446, ys: [625, 635.5, 646], len: 11, width: 2, items: [{ label: 'T = 0.70', color: CYAN }, { label: 'T = 0.75', color: MAGENTA }, { label: 'T = 0.80', color: ORANGE }] },
  },
  {
    id: 'BM2', plot: [366, 670, 512, 876], pad: [8, 4, 12, 20], x: hAx(B_HR_TICKS), y: axBCRg(false),
    datasets: [hist(B_HR_T080_R, B_HR_T080_P, ORANGE), hist(B_HR_T075_R, B_HR_T075_P, MAGENTA), hist(B_HR_T070_R, B_HR_T070_P, CYAN)],
  },
  {
    id: 'BR1', plot: [564, 451, 758, 587], pad: [46, 4, 4, 4], x: axBCTemp(false), y: axBRE,
    datasets: [vline(B_MARK_T[0], CYAN, axBRE), vline(B_MARK_T[1], MAGENTA, axBRE), vline(B_MARK_T[2], ORANGE, axBRE), curve(B_E_T, B_E, false)],
    yTitle: { x: 532, parts: ENERGY_T },
  },
  {
    id: 'BR2', plot: [564, 594, 758, 730], pad: [46, 4, 4, 4], x: axBCTemp(false), y: axBCv,
    datasets: [vline(B_MARK_T[0], CYAN, axBCv), vline(B_MARK_T[1], MAGENTA, axBCv), vline(B_MARK_T[2], ORANGE, axBCv), curve(B_CV_T, B_CV, true)],
    yTitle: { x: 532, parts: CV_T },
  },
  {
    id: 'BR3', plot: [564, 740, 758, 876], pad: [46, 4, 5, 20], x: axBCTemp(true), y: axRRg,
    datasets: [vline(B_MARK_T[0], CYAN, axRRg), vline(B_MARK_T[1], MAGENTA, axRRg), vline(B_MARK_T[2], ORANGE, axRRg), curve(B_RG_T, B_RG, false)],
    yTitle: { x: 533, parts: RG_T },
  },
  // ===== C =====
  {
    id: 'CL1', plot: [57, 894, 353, 1103], pad: [57, 4, 16, 4], x: axBCTime(false), y: axCE(true),
    datasets: [series(C_E_T080, 1e6, ORANGE), series(C_E_T075, 1e6, MAGENTA), series(C_E_T055, 1e6, MAUVE), series(C_E_T050, 1e6, YELLOW)],
    yTitle: { x: 23, parts: ENERGY_T },
  },
  {
    id: 'CL2', plot: [57, 1115, 353, 1322], pad: [57, 4, 16, 27], x: axBCTime(true), y: axBCRg(true),
    datasets: [series(C_RG_T080, 1e6, ORANGE), series(C_RG_T075, 1e6, MAGENTA), series(C_RG_T055, 1e6, MAUVE), series(C_RG_T050, 1e6, YELLOW)],
    yTitle: { x: 24, parts: RG_T },
    xTitle: { x: 203, y: 1341, text: 'Time' },
  },
  {
    id: 'CM1', plot: [370, 895, 517, 1102], pad: [8, 4, 14, 20], x: hAx(C_HE_TICKS), y: axCE(false),
    datasets: [hist(C_HE_T080_E, C_HE_T080_P, ORANGE), hist(C_HE_T075_E, C_HE_T075_P, MAGENTA), hist(C_HE_T055_E, C_HE_T055_P, MAUVE), hist(C_HE_T050_E, C_HE_T050_P, YELLOW)],
    legend: { x: 444, ys: [983, 993, 1003, 1013], len: 14, width: 2, items: [{ label: 'T = 0.50', color: YELLOW }, { label: 'T = 0.55', color: MAUVE }, { label: 'T = 0.75', color: MAGENTA }, { label: 'T = 0.80', color: ORANGE }] },
  },
  {
    id: 'CM2', plot: [370, 1114, 517, 1323], pad: [8, 4, 12, 26], x: hAx(C_HR_TICKS), y: axBCRg(false),
    datasets: [hist(C_HR_T080_R, C_HR_T080_P, ORANGE), hist(C_HR_T075_R, C_HR_T075_P, MAGENTA), hist(C_HR_T055_R, C_HR_T055_P, MAUVE), hist(C_HR_T050_R, C_HR_T050_P, YELLOW)],
    xTitle: { x: 447, y: 1341, text: 'Probability density' },
  },
  {
    id: 'CR1', plot: [562, 895, 758, 1032], pad: [44, 4, 4, 4], x: axBCTemp(false), y: axRE,
    datasets: [vline(C_MARK_T[0], YELLOW, axRE), vline(C_MARK_T[1], TAN, axRE), vline(C_MARK_T[2], MAGENTA, axRE), vline(C_MARK_T[3], ORANGE, axRE), curve(C_E_T, C_E, false)],
    yTitle: { x: 530, parts: ENERGY_T },
  },
  {
    id: 'CR2', plot: [562, 1040, 758, 1177], pad: [44, 4, 4, 4], x: axBCTemp(false), y: axCCv,
    datasets: [vline(C_MARK_T[0], YELLOW, axCCv), vline(C_MARK_T[1], TAN, axCCv), vline(C_MARK_T[2], MAGENTA, axCCv), vline(C_MARK_T[3], ORANGE, axCCv), curve(C_CV_T, C_CV, true)],
    yTitle: { x: 535, parts: CV_T },
  },
  {
    id: 'CR3', plot: [562, 1185, 758, 1320], pad: [44, 4, 5, 29], x: axBCTemp(true), y: axRRg,
    datasets: [vline(C_MARK_T[0], YELLOW, axRRg), vline(C_MARK_T[1], TAN, axRRg), vline(C_MARK_T[2], MAGENTA, axRRg), vline(C_MARK_T[3], ORANGE, axRRg), curve(C_RG_T, C_RG, false)],
    yTitle: { x: 535, parts: RG_T },
    xTitle: { x: 667, y: 1341, text: 'Temperature (reduced units)' },
  },
];

// ---------- drawing helpers ----------
function tickMarks(ctx: CanvasRenderingContext2D, scale: any, ax: Axis, horiz: boolean, ca: any) {
  const t = ax.ticks;
  const step = t.length > 1 ? t[1] - t[0] : ax.max - ax.min;
  const sub = step / ax.minor;
  const eps = Math.abs(sub) * 1e-6;
  let start = t[0];
  while (start - sub >= ax.min - eps) start -= sub;
  ctx.beginPath();
  for (let k = 0; k < 500; k++) {
    const v = start + k * sub;
    if (v > ax.max + eps) break;
    const rel = (v - t[0]) / step;
    const major = Math.abs(rel - Math.round(rel)) < 1e-6;
    const len = major ? 6 : 3;
    const p = scale.getPixelForValue(v);
    if (horiz) {
      ctx.moveTo(p, ca.bottom); ctx.lineTo(p, ca.bottom - len);
      ctx.moveTo(p, ca.top); ctx.lineTo(p, ca.top + len);
    } else {
      ctx.moveTo(ca.left, p); ctx.lineTo(ca.left + len, p);
      ctx.moveTo(ca.right, p); ctx.lineTo(ca.right - len, p);
    }
  }
  ctx.stroke();
}

function drawParts(ctx: CanvasRenderingContext2D, parts: Part[], cx: number, cy: number, rotate: boolean) {
  const main = `12px ${SERIF}`;
  const small = `9px ${SERIF}`;
  const ws: number[] = [];
  let total = 0;
  for (const p of parts) {
    ctx.font = p.sub ? small : main;
    const w = ctx.measureText(p.t).width;
    ws.push(w);
    total += w;
  }
  ctx.save();
  ctx.translate(cx, cy);
  if (rotate) ctx.rotate(-Math.PI / 2);
  ctx.fillStyle = '#111';
  ctx.textAlign = 'left';
  ctx.textBaseline = 'alphabetic';
  let x = -total / 2;
  parts.forEach((p, i) => {
    ctx.font = p.sub ? small : main;
    ctx.fillText(p.t, x, p.sub ? 7 : 4);
    x += ws[i];
  });
  ctx.restore();
}

function makeDecor(spec: PanelSpec) {
  return {
    id: 'decor_' + spec.id,
    afterDraw(chart: any) {
      const ctx: CanvasRenderingContext2D = chart.ctx;
      const ca = chart.chartArea;
      const ox = spec.plot[0] - spec.pad[0];
      const oy = spec.plot[1] - spec.pad[1];
      ctx.save();
      ctx.strokeStyle = '#000';
      ctx.lineWidth = 1;
      tickMarks(ctx, chart.scales.x, spec.x, true, ca);
      tickMarks(ctx, chart.scales.y, spec.y, false, ca);
      ctx.lineWidth = 2;
      ctx.strokeRect(ca.left, ca.top, ca.right - ca.left, ca.bottom - ca.top);
      if (spec.yTitle) {
        drawParts(ctx, spec.yTitle.parts, spec.yTitle.x - ox, (ca.top + ca.bottom) / 2, true);
      }
      if (spec.xTitle) {
        drawParts(ctx, [{ t: spec.xTitle.text }], spec.xTitle.x - ox, spec.xTitle.y - oy, false);
      }
      if (spec.legend) {
        const lg = spec.legend;
        lg.items.forEach((it, i) => {
          const y = lg.ys[i] - oy;
          const x0 = lg.x - ox;
          ctx.strokeStyle = it.color;
          ctx.lineWidth = lg.width;
          ctx.beginPath();
          ctx.moveTo(x0, y);
          ctx.lineTo(x0 + lg.len, y);
          ctx.stroke();
          ctx.fillStyle = '#111';
          ctx.font = `12px ${SERIF}`;
          ctx.textAlign = 'left';
          ctx.textBaseline = 'middle';
          ctx.fillText(it.label, x0 + lg.len + 3, y + 0.5);
        });
      }
      ctx.restore();
    },
  };
}

function axisOptions(ax: Axis, horiz: boolean, size: number) {
  return {
    type: 'linear',
    min: ax.min,
    max: ax.max,
    position: horiz ? 'bottom' : 'left',
    grid: { display: false, drawTicks: false },
    border: { display: false },
    ticks: {
      display: !!ax.labels,
      autoSkip: false,
      maxRotation: 0,
      minRotation: 0,
      padding: horiz ? 1 : 3,
      color: '#1a1a1a',
      font: { family: SERIF, size: 12 },
      callback: (_v: any, i: number) => (ax.labels ? ax.labels[i] : ''),
    },
    afterBuildTicks: (s: any) => {
      s.ticks = ax.ticks.map((v) => ({ value: v }));
    },
    afterFit: (s: any) => {
      if (horiz) {
        s.height = size;
        s.paddingLeft = 0;
        s.paddingRight = 0;
      } else {
        s.width = size;
        s.paddingTop = 0;
        s.paddingBottom = 0;
      }
    },
  };
}

function ChartPanel({ spec }: { spec: PanelSpec }) {
  const ref = useRef<HTMLCanvasElement>(null);
  const [l, t, r, b] = spec.plot;
  const [L, T, R, B] = spec.pad;
  const w = r - l + L + R;
  const h = b - t + T + B;
  useEffect(() => {
    const canvas = ref.current;
    if (!canvas) return;
    const chart = new Chart(canvas, {
      type: 'scatter',
      data: { datasets: spec.datasets as any },
      options: {
        animation: false,
        responsive: false,
        devicePixelRatio: 1,
        events: [],
        layout: { padding: { left: 0, top: T, right: R, bottom: 0 } },
        plugins: { legend: { display: false }, tooltip: { enabled: false } },
        scales: {
          x: axisOptions(spec.x, true, B) as any,
          y: axisOptions(spec.y, false, L) as any,
        },
      } as any,
      plugins: [makeDecor(spec)],
    });
    return () => chart.destroy();
  }, []);
  return (
    <canvas
      ref={ref}
      width={w}
      height={h}
      style={{
        position: 'absolute',
        left: l - L,
        top: t - T,
        width: w,
        height: h,
        background: spec.bg ? '#fff' : 'transparent',
      }}
    />
  );
}

const letterStyle = (top: number, left: number): React.CSSProperties => ({
  position: 'absolute',
  left,
  top,
  fontFamily: '"Open Sans", "DejaVu Sans", sans-serif',
  fontSize: 20,
  lineHeight: '20px',
  color: '#111',
});

export default function App() {
  return (
    <div style={{ position: 'absolute', left: 0, top: 0, width: 762, height: 1349, background: '#fff', overflow: 'hidden' }}>
      {PANELS.map((p) => (
        <ChartPanel key={p.id} spec={p} />
      ))}
      <div style={letterStyle(3.5, 2)}>A</div>
      <div style={letterStyle(449.5, 1)}>B</div>
      <div style={letterStyle(893.5, 2)}>C</div>
    </div>
  );
}
